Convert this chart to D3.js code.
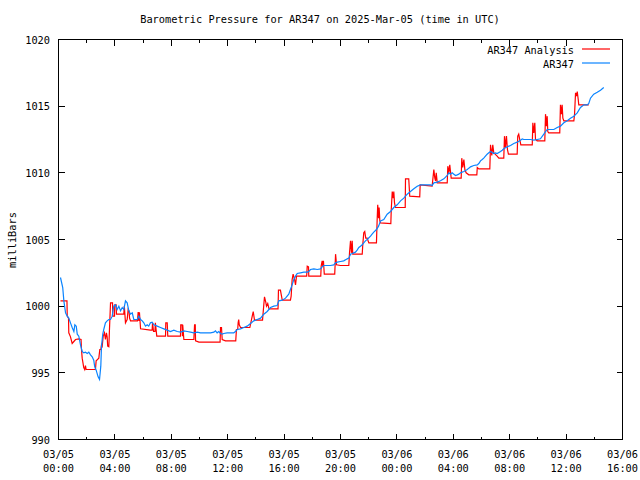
<!DOCTYPE html>
<html>
<head>
<meta charset="utf-8">
<script src="https://cdn.jsdelivr.net/npm/d3@7"></script>
<style>
  html, body { margin: 0; padding: 0; background: #fff; }
  svg { display: block; }
  text { font-family: "DejaVu Sans Mono", "Liberation Mono", monospace; font-size: 10.3px; fill: #000; }
</style>
</head>
<body>
<svg id="chart" width="640" height="480"></svg>
<script>
// ---- Data (hours since 2025-03-05 00:00 UTC, pressure in mb) ----
const title = "Barometric Pressure for AR347 on 2025-Mar-05 (time in UTC)";
const yLabel = "milliBars";
const seriesNames = ["AR347 Analysis", "AR347"];
const yTicks = [990, 995, 1000, 1005, 1010, 1015, 1020];

const stationHours = [0.14,0.30,0.38,0.50,0.62,0.73,0.85,0.97,1.09,1.16,1.26,1.33,1.44,1.56,1.68,1.79,1.91,2.04,2.15,2.27,2.39,2.50,2.57,2.67,2.81,2.91,3.00,3.05,3.14,3.21,3.33,3.45,3.57,3.69,3.81,3.92,4.04,4.16,4.28,4.40,4.52,4.63,4.75,4.87,4.99,5.11,5.23,5.34,5.46,5.58,5.70,5.82,5.94,6.05,6.17,6.29,6.40,6.52,6.64,6.76,7.00,7.23,7.47,7.71,7.94,8.18,8.42,8.65,8.89,9.13,9.36,9.60,9.84,10.07,10.31,10.55,10.78,11.02,11.13,11.25,11.37,11.49,11.61,11.72,11.96,12.20,12.43,12.55,12.67,12.91,13.14,13.38,13.62,13.85,14.09,14.33,14.56,14.80,15.04,15.27,15.51,15.62,15.87,16.10,16.33,16.45,16.57,16.69,16.81,16.93,17.16,17.40,17.64,17.75,17.87,18.11,18.35,18.58,18.70,18.82,19.06,19.29,19.52,19.65,19.77,20.00,20.23,20.48,20.59,20.71,20.83,20.94,21.06,21.18,21.30,21.42,21.54,21.65,21.77,21.89,22.13,22.24,22.36,22.55,22.70,22.84,23.07,23.31,23.55,23.78,24.02,24.26,24.49,24.73,24.96,25.20,25.44,25.67,25.91,26.15,26.38,26.50,26.62,26.86,27.09,27.33,27.57,27.68,27.80,27.92,28.04,28.16,28.28,28.39,28.51,28.63,28.75,28.99,29.10,29.22,29.45,29.70,29.81,29.93,30.05,30.16,30.40,30.52,30.64,30.87,30.99,31.11,31.35,31.47,31.58,31.82,32.06,32.29,32.53,32.77,32.89,33.00,33.24,33.48,33.71,33.95,34.18,34.42,34.54,34.66,34.89,35.13,35.37,35.60,35.84,36.08,36.31,36.55,36.79,37.02,37.26,37.50,37.61,37.73,37.96,38.21,38.44,38.67];
const stationMb = [1002.15,1001.4,1000.4,999.5,999.25,999.1,998.75,998.4,998.1,998.6,998.5,997.9,997.75,997.1,996.6,996.5,996.55,996.45,996.55,996.35,996.2,995.95,995.45,995.2,994.7,994.5,995.5,997.0,997.9,998.25,998.75,998.9,999.0,999.0,999.25,1000.0,1000.1,999.75,1000.0,999.65,999.9,999.75,1000.4,1000.25,999.65,999.4,999.5,999.0,999.0,999.0,999.25,999.0,998.9,998.75,998.5,998.6,998.5,998.75,998.8,998.6,998.5,998.4,998.3,998.2,998.1,998.2,998.1,998.05,998.15,998.1,998.05,998.0,998.05,998.0,998.0,998.0,998.0,998.05,998.15,998.0,998.1,997.95,997.9,997.95,998.0,998.0,998.0,998.1,998.25,998.3,998.4,998.5,998.7,998.9,999.0,999.1,999.4,999.6,999.9,1000.0,1000.05,1000.4,1000.45,1000.6,1000.9,1001.25,1001.6,1002.0,1002.25,1002.45,1002.5,1002.55,1002.55,1002.6,1002.75,1002.8,1002.75,1002.8,1002.95,1003.05,1003.05,1003.05,1003.1,1003.25,1003.3,1003.35,1003.4,1003.55,1003.6,1003.9,1003.95,1004.0,1004.05,1004.2,1004.4,1004.5,1004.6,1004.75,1004.9,1005.0,1005.25,1005.4,1005.55,1005.75,1006.0,1006.4,1006.5,1006.9,1007.1,1007.4,1007.6,1007.9,1008.1,1008.4,1008.6,1008.8,1009.0,1009.1,1009.1,1009.1,1009.1,1009.05,1009.25,1009.3,1009.4,1009.55,1009.8,1010.0,1009.9,1010.0,1009.9,1009.8,1009.85,1009.9,1010.0,1010.05,1010.1,1010.25,1010.35,1010.45,1010.55,1010.6,1010.7,1010.9,1011.0,1011.1,1011.4,1011.5,1011.6,1011.45,1011.5,1011.45,1011.6,1011.7,1011.8,1011.95,1012.05,1012.2,1012.3,1012.45,1012.55,1012.5,1012.5,1012.5,1012.45,1012.5,1012.55,1012.9,1013.1,1013.25,1013.25,1013.25,1013.4,1013.5,1013.75,1013.9,1014.1,1014.25,1014.5,1014.9,1015.1,1015.1,1015.2,1015.6,1015.9,1016.05,1016.2,1016.4];

const analysisHours = [0.14,0.60,0.62,0.71,0.73,0.85,0.97,1.09,1.21,1.44,1.60,1.63,1.68,1.79,1.86,1.91,1.96,2.62,2.67,2.86,2.93,3.00,3.05,3.10,3.17,3.26,3.33,3.40,3.45,3.49,3.57,3.62,3.69,3.83,3.85,3.97,3.99,4.09,4.11,4.63,4.67,4.75,4.87,4.94,5.01,5.04,5.11,5.60,5.65,5.70,5.74,5.82,6.52,6.64,6.67,6.74,6.84,6.87,6.97,7.59,7.61,7.71,7.75,8.65,8.67,8.77,8.79,8.81,8.89,9.60,9.65,9.70,9.72,9.96,11.46,11.49,11.56,11.61,11.84,12.57,12.62,12.71,12.74,12.78,12.82,12.91,13.57,13.74,13.81,13.90,14.47,14.52,14.56,14.61,14.70,14.75,14.84,14.93,15.57,15.60,15.74,15.79,15.87,16.45,16.50,16.57,16.64,16.74,16.81,16.88,17.60,17.64,17.73,17.75,18.60,18.63,18.70,18.74,18.79,18.85,19.59,19.65,19.72,20.00,20.59,20.64,20.71,20.78,20.83,20.87,20.94,21.54,21.58,21.65,21.72,21.79,21.89,22.01,22.55,22.60,22.64,22.70,22.74,22.79,22.84,23.57,23.60,23.67,23.74,23.78,23.83,23.90,24.59,24.61,24.84,24.91,25.62,25.65,26.50,26.62,26.69,26.74,26.79,26.86,27.57,27.61,27.68,27.75,27.85,28.56,28.60,28.67,28.75,28.82,28.91,29.10,29.67,29.70,29.81,30.59,30.64,30.73,30.80,30.87,31.11,31.23,31.58,31.63,31.70,31.77,31.84,31.91,32.53,32.57,32.64,32.72,32.79,33.60,33.64,33.71,33.78,33.83,33.95,34.49,34.54,34.61,34.66,34.70,34.77,35.55,35.60,35.67,35.72,35.77,35.84,36.55,36.60,36.67,36.74,36.79,36.86,36.90,37.61];
const analysisMb = [1000.4,1000.4,999.25,999.1,998.0,997.7,997.2,997.35,997.5,997.55,997.5,996.75,996.1,995.4,995.25,995.55,995.25,995.25,995.9,996.1,996.75,996.75,997.1,997.0,997.75,998.0,997.5,998.0,997.7,997.0,996.95,998.4,1000.25,1000.25,999.25,999.25,1000.1,1000.1,999.4,999.4,1000.0,998.75,999.0,999.75,999.6,999.1,998.9,998.9,999.55,998.9,999.55,998.3,998.2,998.2,998.75,998.1,998.1,998.75,997.75,997.75,998.75,998.75,997.75,997.75,998.6,998.6,997.75,998.6,997.5,997.5,998.6,998.6,997.4,997.3,997.3,998.4,998.4,997.5,997.4,997.4,998.25,998.25,998.75,999.0,998.6,998.4,998.4,999.25,999.6,998.95,998.95,999.6,1000.1,1000.7,1000.3,1000.0,1000.2,999.8,999.8,1001.2,1001.2,1000.9,1000.45,1000.45,1000.75,1002.0,1002.4,1002.0,1001.6,1002.25,1002.25,1003.0,1002.95,1002.25,1002.25,1003.0,1003.4,1003.0,1003.4,1002.4,1002.4,1003.9,1003.1,1003.05,1003.05,1004.0,1004.9,1004.0,1004.9,1003.9,1003.9,1003.9,1004.6,1005.5,1005.6,1005.1,1005.1,1004.75,1004.75,1006.5,1007.6,1006.6,1007.4,1006.4,1006.25,1006.2,1007.25,1008.6,1008.1,1008.6,1007.75,1007.4,1007.4,1009.55,1009.55,1008.25,1008.2,1009.1,1009.0,1010.25,1009.6,1009.4,1010.0,1009.25,1009.25,1010.5,1010.0,1010.6,1009.6,1009.6,1011.1,1010.4,1011.0,1010.25,1010.0,1009.85,1009.85,1010.4,1010.3,1010.3,1012.1,1011.3,1012.1,1011.5,1011.25,1011.1,1011.1,1012.75,1011.9,1012.75,1011.75,1011.4,1011.4,1012.75,1012.9,1012.45,1012.1,1012.1,1013.75,1013.0,1013.75,1012.5,1012.4,1012.4,1014.4,1013.5,1014.25,1013.1,1013.0,1013.0,1015.1,1014.4,1015.1,1014.1,1013.9,1013.9,1014.4,1016.0,1015.75,1016.1,1015.5,1015.1,1015.1];

// ---- Layout ----
const W = 640, H = 480;
const plotL = 58.5, plotR = 622.5, plotT = 39.5, plotB = 439.5;
const t0 = Date.UTC(2025, 2, 5, 0, 0);
const HOUR = 3600000;
const toDate = h => new Date(t0 + h * HOUR);

const svg = d3.select("#chart");
svg.append("rect").attr("width", W).attr("height", H).attr("fill", "#fff");

const x = d3.scaleUtc().domain([toDate(0), toDate(40)]).range([plotL, plotR]);
const y = d3.scaleLinear().domain([990, 1020]).range([plotB, plotT]);

const majorTicks = d3.utcHour.every(4).range(toDate(0), toDate(40.01));
const minorTicks = d3.utcHour.every(2).range(toDate(0), toDate(40.01));

const g = svg.append("g");

// Ticks (inward, mirrored on top/right)
const tickLayer = g.append("g").attr("stroke", "#000").attr("stroke-width", 1).attr("shape-rendering", "crispEdges");
minorTicks.forEach(d => {
  const isMajor = d.getUTCHours() % 4 === 0;
  const len = isMajor ? 6 : 3;
  const xx = Math.round(x(d) - 0.5) + 0.5;
  tickLayer.append("line").attr("x1", xx).attr("x2", xx).attr("y1", plotB).attr("y2", plotB - len);
  tickLayer.append("line").attr("x1", xx).attr("x2", xx).attr("y1", plotT).attr("y2", plotT + len);
});
yTicks.forEach(v => {
  const yy = Math.round(y(v) - 0.5) + 0.5;
  tickLayer.append("line").attr("x1", plotL).attr("x2", plotL + 6).attr("y1", yy).attr("y2", yy);
  tickLayer.append("line").attr("x1", plotR).attr("x2", plotR - 6).attr("y1", yy).attr("y2", yy);
});

// Frame
g.append("rect").attr("x", plotL).attr("y", plotT).attr("width", plotR - plotL).attr("height", plotB - plotT)
  .attr("fill", "none").attr("stroke", "#000").attr("stroke-width", 1).attr("shape-rendering", "crispEdges");

// Y tick labels
yTicks.forEach(v => {
  g.append("text").attr("x", 50).attr("y", y(v) + 4).attr("text-anchor", "end").text(d3.format("d")(v));
});

// X tick labels
const fDate = d3.utcFormat("%m/%d"), fTime = d3.utcFormat("%H:%M");
majorTicks.forEach(d => {
  const xx = x(d);
  g.append("text").attr("x", xx).attr("y", 458).attr("text-anchor", "middle").text(fDate(d));
  g.append("text").attr("x", xx).attr("y", 472).attr("text-anchor", "middle").text(fTime(d));
});

// Title & axis label
g.append("text").attr("x", 320).attr("y", 23).attr("text-anchor", "middle").text(title);
g.append("text").attr("transform", "translate(16,240) rotate(-90)").attr("text-anchor", "middle").text(yLabel);

// Lines
const analysis = analysisHours.map((h, i) => ({ t: toDate(h), v: analysisMb[i] }));
const station = stationHours.map((h, i) => ({ t: toDate(h), v: stationMb[i] }));
const line = d3.line().x(d => x(d.t)).y(d => y(d.v));

g.append("path").datum(analysis).attr("d", line).attr("fill", "none").attr("stroke", "#ff0000").attr("stroke-width", 1.2);
g.append("path").datum(station).attr("d", line).attr("fill", "none").attr("stroke", "#0a84ff").attr("stroke-width", 1.2);

// Legend
const legendColors = ["#ff0000", "#0a84ff"];
seriesNames.forEach((name, i) => {
  const ly = 50 + i * 14;
  g.append("text").attr("x", 574).attr("y", ly + 4).attr("text-anchor", "end").text(name);
  g.append("path").attr("d", `M582,${ly - 1}H610`).attr("fill", "none")
    .style("stroke", legendColors[i]).style("stroke-width", "1.2px");
});
</script>
</body>
</html>
